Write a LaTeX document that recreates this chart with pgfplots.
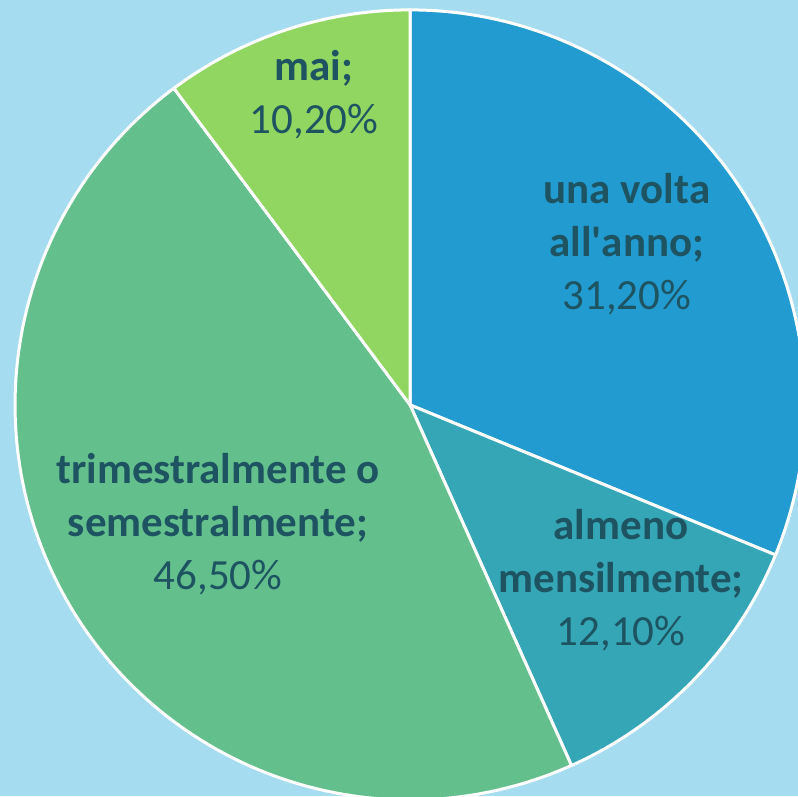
\documentclass[border=0pt]{standalone}
\usepackage{pgfplots}
\pgfplotsset{compat=1.18}
\usepackage{fontspec}
\setmainfont{Carlito}

\definecolor{bg}{RGB}{166,220,240}
\definecolor{cA}{RGB}{34,156,208}
\definecolor{cB}{RGB}{53,166,181}
\definecolor{cC}{RGB}{99,192,140}
\definecolor{cD}{RGB}{144,214,96}
\definecolor{txt}{RGB}{30,84,98}

\tikzset{
    slice/.style={draw=white, line width=1.5pt, line join=round},
    lbl/.style={text=txt, align=center, font=\fontsize{21.5}{26.5}\selectfont},
}

% shares in percent, clockwise from 12 o'clock
\def\pA{31.2}
\def\pB{12.1}
\def\pC{46.5}
\def\pD{10.2}
\pgfmathsetmacro\aA{90}
\pgfmathsetmacro\aB{\aA-3.6*\pA}
\pgfmathsetmacro\aC{\aB-3.6*\pB}
\pgfmathsetmacro\aD{\aC-3.6*\pC}
\pgfmathsetmacro\aE{\aD-3.6*\pD}

\begin{document}
\begin{tikzpicture}
\begin{axis}[
    name=pie,
    x=197.5pt, y=197.5pt,
    xmin=-1.038, xmax=0.982,
    ymin=-0.990, ymax=1.025,
    axis lines=none,
    ticks=none,
    axis background/.style={fill=bg},
    clip=true,
    samples=120,
]
\addplot[slice, no markers, fill=cA, domain=\aB:\aA] ({cos(x)},{sin(x)}) -- (axis cs:0,0) -- cycle;
\addplot[slice, no markers, fill=cB, domain=\aC:\aB] ({cos(x)},{sin(x)}) -- (axis cs:0,0) -- cycle;
\addplot[slice, no markers, fill=cC, domain=\aD:\aC] ({cos(x)},{sin(x)}) -- (axis cs:0,0) -- cycle;
\addplot[slice, no markers, fill=cD, domain=\aE:\aD] ({cos(x)},{sin(x)}) -- (axis cs:0,0) -- cycle;

\node[lbl] at (axis cs:0.549,0.408) {\textbf{una volta}\\\textbf{all\textquotesingle anno;}\\31,20\%};
\node[lbl] at (axis cs:0.534,-0.443) {\textbf{almeno}\\\textbf{mensilmente;}\\12,10\%};
\node[lbl] at (axis cs:-0.486,-0.301) {\textbf{trimestralmente o}\\\textbf{semestralmente;}\\46,50\%};
\node[lbl] at (axis cs:-0.243,0.785) {\textbf{mai;}\\10,20\%};
\end{axis}
\pgfresetboundingbox
\path[use as bounding box] (pie.south west) rectangle (pie.north east);
\end{tikzpicture}
\end{document}
